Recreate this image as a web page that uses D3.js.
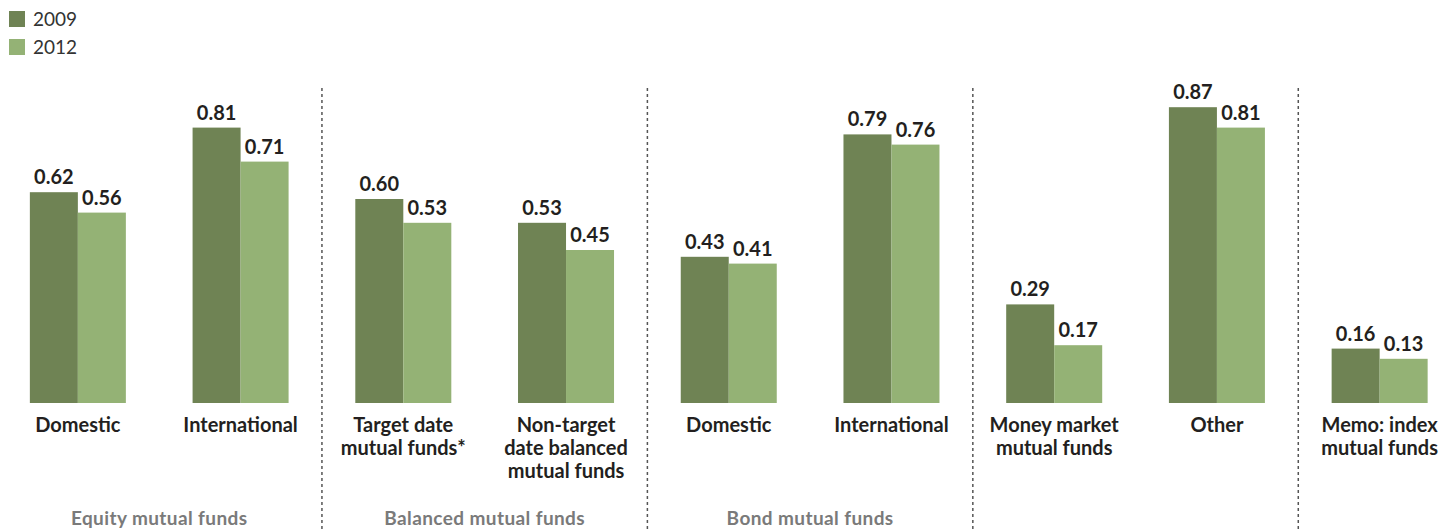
<!DOCTYPE html>
<html>
<head>
<meta charset="utf-8">
<script src="https://cdn.jsdelivr.net/npm/d3@7"></script>
<style>
  body { margin: 0; background: #fff; }
  svg { display: block; font-family: Lato, "Open Sans", sans-serif; }
</style>
</head>
<body>
<div id="chart"></div>
<script>
// chart data
var categories = ["Domestic", "International", "Target date|mutual funds*", "Non-target|date balanced|mutual funds",
  "Domestic ", "International ", "Money market|mutual funds", "Other", "Memo: index|mutual funds"];
var years = ["2009", "2012"];
var values2009 = [0.62, 0.81, 0.60, 0.53, 0.43, 0.79, 0.29, 0.87, 0.16];
var values2012 = [0.56, 0.71, 0.53, 0.45, 0.41, 0.76, 0.17, 0.81, 0.13];
var groupNames = ["Equity mutual funds", "Balanced mutual funds", "Bond mutual funds"];
var groupSpans = [[0, 1], [2, 3], [4, 5]];
var dividersAfter = [1, 3, 5, 7];

var width = 1455, height = 529;
var colors = { "2009": "#6f8354", "2012": "#94b275" };

var svg = d3.select("#chart").append("svg")
  .attr("width", width)
  .attr("height", height);

// scales
var x = d3.scaleBand().domain(categories).range([-3.5, 1461]).paddingInner(0.41).paddingOuter(0.205);
var xSub = d3.scaleBand().domain(years).range([0, x.bandwidth()]);
var y = d3.scaleLinear().domain([0, 1]).range([403, 63]);

var rows = categories.map(function (c, i) {
  return { cat: c, vals: [{ year: "2009", v: values2009[i] }, { year: "2012", v: values2012[i] }] };
});

// dashed dividers
dividersAfter.forEach(function (i) {
  var xm = (x(categories[i]) + x.bandwidth() + x(categories[i + 1])) / 2;
  svg.append("line")
    .attr("x1", xm).attr("x2", xm)
    .attr("y1", 88).attr("y2", 529)
    .attr("stroke", "#555")
    .attr("stroke-width", 1.5)
    .attr("stroke-dasharray", "3,3");
});

var g = svg.selectAll("g.cat").data(rows).enter().append("g")
  .attr("class", "cat")
  .attr("transform", function (d) { return "translate(" + x(d.cat) + ",0)"; });

g.selectAll("rect").data(function (d) { return d.vals; }).enter().append("rect")
  .attr("x", function (d) { return xSub(d.year); })
  .attr("width", xSub.bandwidth())
  .attr("y", function (d) { return y(d.v); })
  .attr("height", function (d) { return y(0) - y(d.v); })
  .attr("fill", function (d) { return colors[d.year]; });

g.selectAll("text.val").data(function (d) { return d.vals; }).enter().append("text")
  .attr("class", "val")
  .attr("x", function (d) { return xSub(d.year) + xSub.bandwidth() / 2; })
  .attr("y", function (d) { return y(d.v) - 8; })
  .attr("text-anchor", "middle")
  .attr("font-size", 20)
  .attr("font-weight", "bold")
  .attr("fill", "#231f20")
  .text(function (d) { return d.v.toFixed(2); });

// category labels
g.each(function (d) {
  var lines = d.cat.trim().split("|");
  var t = d3.select(this).append("text")
    .attr("text-anchor", "middle")
    .attr("font-size", 20)
    .attr("font-weight", "bold")
    .attr("fill", "#231f20");
  lines.forEach(function (l, k) {
    t.append("tspan")
      .attr("x", x.bandwidth() / 2)
      .attr("y", 432 + k * 23)
      .text(l);
  });
});

// group labels
groupNames.forEach(function (name, i) {
  var a = groupSpans[i][0], b = groupSpans[i][1];
  var cx = (x(categories[a]) + x(categories[b]) + x.bandwidth()) / 2;
  svg.append("text")
    .attr("x", cx)
    .attr("y", 525)
    .attr("text-anchor", "middle")
    .attr("font-size", 19)
    .attr("font-weight", "bold")
    .attr("letter-spacing", 0.4)
    .attr("fill", "#7a7a7a")
    .text(name);
});

// legend
years.forEach(function (yr, i) {
  svg.append("rect")
    .attr("x", 9).attr("y", 11 + i * 28)
    .attr("width", 16).attr("height", 16)
    .attr("fill", colors[yr]);
  svg.append("text")
    .attr("x", 33).attr("y", 26 + i * 28)
    .attr("font-size", 19)
    .attr("fill", "#333")
    .text(yr);
});
</script>
</body>
</html>
